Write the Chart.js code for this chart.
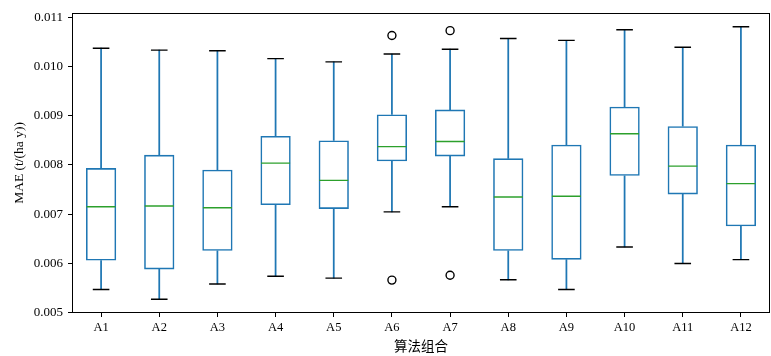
<!DOCTYPE html>
<html>
<head>
<meta charset="utf-8">
<script src="https://cdn.jsdelivr.net/npm/chart.js@4/dist/chart.umd.min.js"></script>
<style>
  html, body { margin: 0; padding: 0; background: #fff; }
  #wrap { width: 771px; height: 356px; }
</style>
</head>
<body>
<div id="wrap"><canvas id="c" width="771" height="356"></canvas></div>
<script>
const categories = ['A1','A2','A3','A4','A5','A6','A7','A8','A9','A10','A11','A12'];
const whiskerLow  = [0.005469,0.005271,0.005582,0.005740,0.005701,0.007046,0.007151,0.005667,0.005469,0.006334,0.005997,0.006077];
const q1          = [0.006057,0.005879,0.006255,0.007185,0.007106,0.008075,0.008174,0.006255,0.006077,0.007779,0.007402,0.006755];
const median      = [0.007151,0.007165,0.007131,0.008036,0.007686,0.008372,0.008477,0.007349,0.007363,0.008635,0.007976,0.007620];
const q3          = [0.007937,0.008206,0.007903,0.008590,0.008497,0.009025,0.009124,0.008135,0.008412,0.009184,0.008788,0.008412];
const whiskerHigh = [0.010371,0.010331,0.010318,0.010159,0.010094,0.010252,0.010351,0.010569,0.010529,0.010747,0.010391,0.010806];
const outlierHigh = [null,null,null,null,null,0.010628,0.010727,null,null,null,null,null];
const outlierLow  = [null,null,null,null,null,0.005661,0.005760,null,null,null,null,null];
const yTickValues = [0.005,0.006,0.007,0.008,0.009,0.010,0.011];

const BLUE = '#1f77b4', GREEN = '#2ca02c', BLACK = '#000000';
const LW = 1.4;

const framePlugin = {
  id: 'frame',
  afterDraw(chart) {
    const a = chart.chartArea, ctx = chart.ctx;
    ctx.save();
    ctx.strokeStyle = '#000';
    ctx.lineWidth = 1;
    ctx.strokeRect(Math.round(a.left) + 0.5, Math.round(a.top) + 0.5,
                   Math.round(a.right - a.left) - 1, Math.round(a.bottom - a.top) - 1);
    ctx.restore();
  }
};

Chart.defaults.font.family = "'Liberation Serif', 'Times New Roman', serif";
Chart.defaults.color = '#000';

new Chart(document.getElementById('c'), {
  type: 'bar',
  data: {
    labels: categories,
    datasets: [
      { type: 'line', label: 'outHigh', data: outlierHigh, showLine: false, pointStyle: 'circle',
        pointRadius: 4, pointBorderColor: BLACK, pointBackgroundColor: 'rgba(0,0,0,0)', pointBorderWidth: LW, order: 1 },
      { type: 'line', label: 'outLow', data: outlierLow, showLine: false, pointStyle: 'circle',
        pointRadius: 4, pointBorderColor: BLACK, pointBackgroundColor: 'rgba(0,0,0,0)', pointBorderWidth: LW, order: 1 },
      { type: 'line', label: 'capHigh', data: whiskerHigh, showLine: false, pointStyle: 'line',
        pointRadius: 8.3, pointBorderColor: BLACK, pointBorderWidth: LW, order: 2 },
      { type: 'line', label: 'capLow', data: whiskerLow, showLine: false, pointStyle: 'line',
        pointRadius: 8.3, pointBorderColor: BLACK, pointBorderWidth: LW, order: 2 },
      { type: 'line', label: 'median', data: median, showLine: false, pointStyle: 'line',
        pointRadius: 14.5, pointBorderColor: GREEN, pointBorderWidth: LW, order: 3 },
      { label: 'box', data: q1.map((v, i) => [v, q3[i]]), backgroundColor: 'rgba(0,0,0,0)',
        borderColor: BLUE, borderWidth: 1.6, borderSkipped: false, grouped: false,
        barPercentage: 0.52, categoryPercentage: 1.0, order: 4 },
      { label: 'whiskLow', data: whiskerLow.map((v, i) => [v, q1[i]]), backgroundColor: BLUE,
        borderWidth: 0, barThickness: 1.1, grouped: false, order: 5 },
      { label: 'whiskHigh', data: q3.map((v, i) => [v, whiskerHigh[i]]), backgroundColor: BLUE,
        borderWidth: 0, barThickness: 1.1, grouped: false, order: 5 }
    ]
  },
  options: {
    responsive: false,
    animation: false,
    events: [],
    layout: { autoPadding: false, padding: { top: 5, right: 1, left: 0, bottom: 0 } },
    plugins: { legend: { display: false }, tooltip: { enabled: false } },
    scales: {
      x: {
        offset: true,
        grid: { display: true, drawOnChartArea: false, drawTicks: true, tickLength: 4, color: '#000', offset: false },
        border: { display: false },
        ticks: { font: { size: 12.5 }, padding: 3, maxRotation: 0, color: '#000' },
        title: { display: true, text: '算法组合', font: { family: "'Noto Sans CJK SC', sans-serif", size: 13.5 },
                 padding: { top: 0, bottom: 2 }, color: '#000' },
        afterFit(scale) { scale.height = 43; }
      },
      y: {
        min: 0.004993,
        max: 0.01109,
        grid: { display: true, drawOnChartArea: false, drawTicks: true, tickLength: 4, color: '#000' },
        border: { display: false },
        afterBuildTicks(axis) { axis.ticks = yTickValues.map(v => ({ value: v })); },
        ticks: { font: { size: 13 }, padding: 5, color: '#000', callback: (v) => Number(v).toFixed(3) },
        title: { display: true, text: 'MAE (t/(ha y))', font: { size: 13.5 }, padding: { top: 11, bottom: 0 }, color: '#000' },
        afterFit(scale) { scale.width = 72; }
      }
    }
  },
  plugins: [framePlugin]
});
</script>
</body>
</html>
